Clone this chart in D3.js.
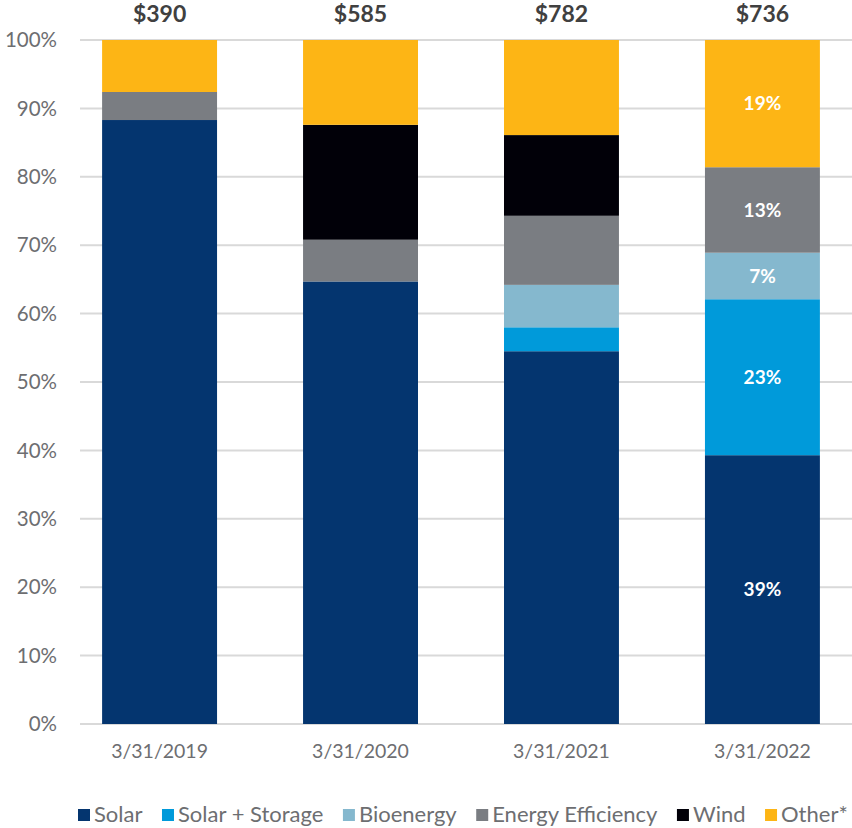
<!DOCTYPE html>
<html>
<head>
<meta charset="utf-8">
<script src="https://cdn.jsdelivr.net/npm/d3@7"></script>
<style>
  body { margin: 0; background: #fff; }
  svg text { font-family: Lato, "Open Sans", sans-serif; }
</style>
</head>
<body>
<div id="chart"></div>
<script>
// donnees
const dates = ['3/31/2019', '3/31/2020', '3/31/2021', '3/31/2022'];
const totals = ['$390', '$585', '$782', '$736'];
const seriesNames = ['Solar', 'Solar + Storage', 'Bioenergy', 'Energy Efficiency', 'Wind', 'Other*'];
const solar = [88.3, 64.7, 54.5, 39.3];
const solarStorage = [0, 0, 3.5, 22.8];
const bioenergy = [0, 0, 6.2, 6.8];
const energyEfficiency = [4.1, 6.1, 10.1, 12.5];
const wind = [0, 16.8, 11.8, 0];
const other = [7.6, 12.4, 13.9, 18.6];
const labels2022 = ['39%', '23%', '7%', '13%', '', '19%'];
const yTicks = [0, 10, 20, 30, 40, 50, 60, 70, 80, 90, 100];
const colors = ['#04356f', '#009ada', '#85b8ce', '#7a7d82', '#010008', '#fdb515'];

const width = 852, height = 828;
const margin = { top: 40, right: 0, bottom: 104, left: 80 };

const svg = d3.select('#chart')
  .append('svg')
  .attr('width', width)
  .attr('height', height);

const x = d3.scaleBand()
  .domain(dates)
  .range([margin.left, 842])
  .paddingInner(0.428)
  .paddingOuter(0.11);

const y = d3.scaleLinear()
  .domain([0, 100])
  .range([height - margin.bottom, margin.top]);

// grille
svg.append('g')
  .selectAll('line')
  .data(yTicks)
  .join('line')
  .attr('x1', margin.left)
  .attr('x2', width)
  .attr('y1', d => y(d))
  .attr('y2', d => y(d))
  .attr('stroke', '#d9d9d9')
  .attr('stroke-width', 2);

// axe Y
svg.append('g')
  .selectAll('text')
  .data(yTicks)
  .join('text')
  .attr('x', 57)
  .attr('y', d => y(d))
  .attr('dy', '0.35em')
  .attr('text-anchor', 'end')
  .attr('font-size', 20.5)
  .attr('fill', '#6d6e71')
  .text(d => d + '%');

// empilement
const rows = dates.map((d, i) => ({
  date: d,
  'Solar': solar[i],
  'Solar + Storage': solarStorage[i],
  'Bioenergy': bioenergy[i],
  'Energy Efficiency': energyEfficiency[i],
  'Wind': wind[i],
  'Other*': other[i]
}));
const stacked = d3.stack().keys(seriesNames)(rows);

const layers = svg.append('g')
  .selectAll('g')
  .data(stacked)
  .join('g')
  .attr('fill', (d, i) => colors[i]);

layers.selectAll('rect')
  .data(d => d)
  .join('rect')
  .attr('x', d => x(d.data.date))
  .attr('width', x.bandwidth())
  .attr('y', d => y(d[1]))
  .attr('height', d => y(d[0]) - y(d[1]));

// etiquettes 2022
const last = dates.length - 1;
svg.append('g')
  .selectAll('text')
  .data(stacked.filter((s, i) => labels2022[i]))
  .join('text')
  .attr('x', x(dates[last]) + x.bandwidth() / 2)
  .attr('y', s => y((s[last][0] + s[last][1]) / 2))
  .attr('dy', '0.35em')
  .attr('text-anchor', 'middle')
  .attr('font-size', 19)
  .attr('font-weight', 'bold')
  .attr('fill', '#fff')
  .text(s => labels2022[seriesNames.indexOf(s.key)]);

// totaux
svg.append('g')
  .selectAll('text')
  .data(dates)
  .join('text')
  .attr('x', d => x(d) + x.bandwidth() / 2)
  .attr('y', 22)
  .attr('text-anchor', 'middle')
  .attr('font-size', 23)
  .attr('font-weight', 'bold')
  .attr('fill', '#404040')
  .text((d, i) => totals[i]);

// axe X
svg.append('g')
  .selectAll('text')
  .data(dates)
  .join('text')
  .attr('x', d => x(d) + x.bandwidth() / 2)
  .attr('y', 758)
  .attr('text-anchor', 'middle')
  .attr('font-size', 19.5)
  .attr('fill', '#6d6e71')
  .text(d => d);

// legende
const legend = svg.append('g').attr('transform', 'translate(78, 0)');
let lx = 0;
seriesNames.forEach((name, i) => {
  const item = legend.append('g').attr('transform', `translate(${lx}, 0)`);
  item.append('rect')
    .attr('x', 0)
    .attr('y', 809)
    .attr('width', 12)
    .attr('height', 12)
    .attr('fill', colors[i]);
  const t = item.append('text')
    .attr('x', 16)
    .attr('y', 822)
    .attr('font-size', 22)
    .attr('fill', '#6d6e71')
    .text(name);
  lx += 16 + t.node().getComputedTextLength() + 19.5;
});
</script>
</body>
</html>
